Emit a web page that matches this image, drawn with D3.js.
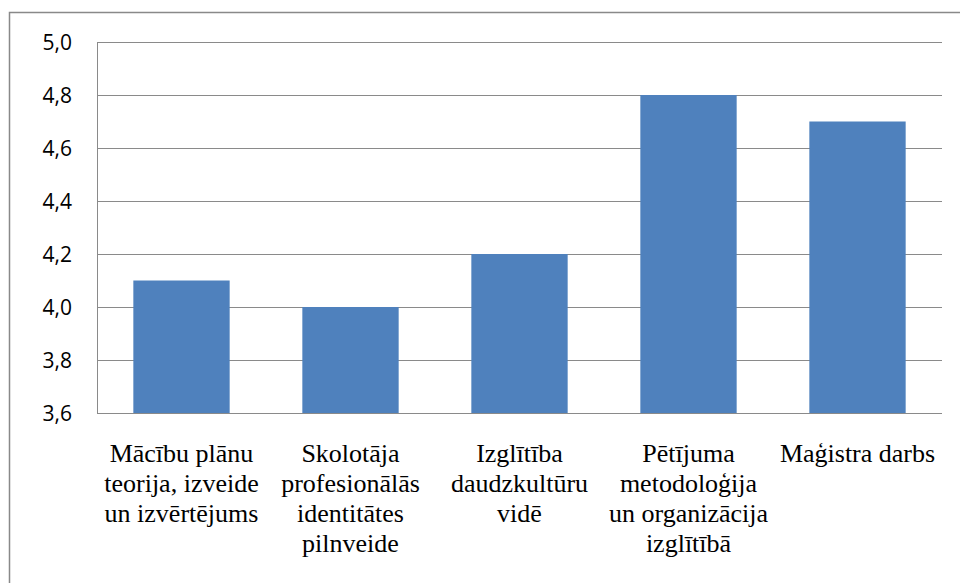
<!DOCTYPE html>
<html>
<head>
<meta charset="utf-8">
<script src="https://cdn.jsdelivr.net/npm/d3@7"></script>
</head>
<body style="margin:0">
<svg id="chart" width="960" height="583" style="display:block"></svg>
<script>
const categories = [
  ["Mācību plānu", "teorija, izveide", "un izvērtējums"],
  ["Skolotāja", "profesionālās", "identitātes", "pilnveide"],
  ["Izglītība", "daudzkultūru", "vidē"],
  ["Pētījuma", "metodoloģija", "un organizācija", "izglītībā"],
  ["Maģistra darbs"]
];
const values = [4.1, 4.0, 4.2, 4.8, 4.7];
const yTicks = [3.6, 3.8, 4.0, 4.2, 4.4, 4.6, 4.8, 5.0];

const svg = d3.select("#chart");
const plot = { left: 97, right: 942, top: 42, bottom: 413 };

// outer frame
svg.append("rect")
  .attr("x", 9.5).attr("y", 12.5)
  .attr("width", 1000).attr("height", 1000)
  .attr("fill", "none").attr("stroke", "#898989").attr("stroke-width", 1.5);

const x = d3.scaleBand()
  .domain(d3.range(categories.length))
  .range([plot.left, plot.right])
  .paddingInner(0.43).paddingOuter(0.215);

const y = d3.scaleLinear().domain([3.6, 5.0]).range([plot.bottom, plot.top]);

// gridlines
svg.append("g").selectAll("line").data(yTicks).join("line")
  .attr("x1", plot.left).attr("x2", plot.right)
  .attr("y1", d => Math.round(y(d)) + 0.5).attr("y2", d => Math.round(y(d)) + 0.5)
  .attr("stroke", "#8a8a8a").attr("stroke-width", 1);

// bars
svg.append("g").selectAll("rect").data(values).join("rect")
  .attr("x", (d, i) => x(i))
  .attr("width", x.bandwidth())
  .attr("y", d => y(d))
  .attr("height", d => y(3.6) - y(d))
  .attr("fill", "#4f81bd");

// axes lines
svg.append("line")
  .attr("x1", plot.left + 0.5).attr("x2", plot.left + 0.5)
  .attr("y1", plot.top).attr("y2", plot.bottom + 0.5)
  .attr("stroke", "#8a8a8a");
svg.append("line")
  .attr("x1", plot.left).attr("x2", plot.right)
  .attr("y1", plot.bottom + 0.5).attr("y2", plot.bottom + 0.5)
  .attr("stroke", "#8a8a8a");

// category labels: one text element per line
const lineData = [];
categories.forEach((lines, i) => lines.forEach((ln, j) => lineData.push({ i, j, ln })));
svg.append("g").selectAll("text").data(lineData).join("text")
  .attr("x", d => x(d.i) + x.bandwidth() / 2)
  .attr("y", d => 462 + d.j * 30)
  .attr("text-anchor", "middle")
  .style("font-family", '"Liberation Serif", serif')
  .style("font-size", "26px")
  .attr("fill", "#000")
  .text(d => d.ln);

// y tick labels
const fmt = d => d.toFixed(1).replace(".", ",");
svg.append("g").selectAll("text").data(yTicks).join("text")
  .attr("x", 72)
  .attr("y", d => y(d))
  .attr("dy", "0.36em")
  .attr("text-anchor", "end")
  .style("font-family", '"Open Sans", sans-serif')
  .style("font-size", "21px")
  .attr("fill", "#000")
  .text(fmt);
</script>
</body>
</html>
